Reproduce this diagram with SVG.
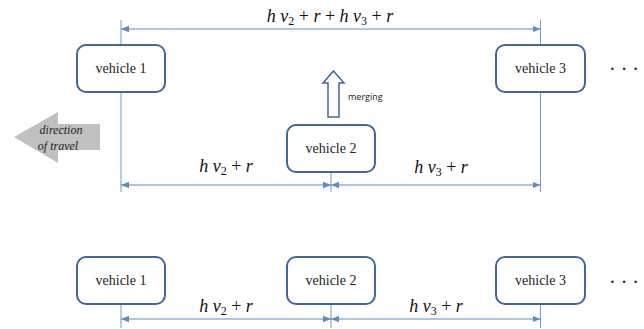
<svg xmlns="http://www.w3.org/2000/svg" width="644" height="329" viewBox="0 0 644 329">
<style>
.box{fill:#fff;stroke:#41679A;stroke-width:2}
.serif{font-family:"Liberation Serif","Times New Roman","DejaVu Serif",serif}
.vt{font-size:14px;fill:#222;text-anchor:middle}
.dim{stroke:#5B8CC6;stroke-width:1;fill:none}
.ext{stroke:#6F9BCF;stroke-width:1;fill:none}
.math{font-size:18px;fill:#111;text-anchor:middle}
.i{font-style:italic}
.sub{font-size:12px}
.dots{font-size:20px;fill:#222}
.dir{font-size:12px;font-style:italic;fill:#222;text-anchor:middle}
</style>
<defs>
<marker id="ah" viewBox="0 0 10 10" refX="10" refY="5" markerWidth="8" markerHeight="8" markerUnits="userSpaceOnUse" orient="auto-start-reverse">
<path d="M0,1 L10,5 L0,9 z" fill="#5B8CC6"/>
</marker>
</defs>
<g id="connectors">
<line class="ext" x1="121" y1="20" x2="121" y2="192"/>
<line class="ext" x1="540.5" y1="20" x2="540.5" y2="192"/>
<line class="ext" x1="331" y1="172" x2="331" y2="192"/>
<line class="dim" x1="121" y1="29" x2="540.5" y2="29" marker-start="url(#ah)" marker-end="url(#ah)"/>
<line class="dim" x1="121" y1="185" x2="331" y2="185" marker-start="url(#ah)" marker-end="url(#ah)"/>
<line class="dim" x1="331" y1="185" x2="540.5" y2="185" marker-start="url(#ah)" marker-end="url(#ah)"/>
<line class="ext" x1="121" y1="304" x2="121" y2="328"/>
<line class="ext" x1="331" y1="304" x2="331" y2="328"/>
<line class="ext" x1="540.5" y1="304" x2="540.5" y2="328"/>
<line class="dim" x1="121" y1="319" x2="331" y2="319" marker-start="url(#ah)" marker-end="url(#ah)"/>
<line class="dim" x1="331" y1="319" x2="540.5" y2="319" marker-start="url(#ah)" marker-end="url(#ah)"/>
</g>
<g id="labels" class="serif">
<text class="math" x="330" y="22"><tspan class="i">h</tspan> <tspan class="i">v</tspan><tspan class="sub" dy="3">2</tspan><tspan dy="-3"> + </tspan><tspan class="i">r</tspan> + <tspan class="i">h</tspan> <tspan class="i">v</tspan><tspan class="sub" dy="3">3</tspan><tspan dy="-3"> + </tspan><tspan class="i">r</tspan></text>
<text class="math" x="226" y="172"><tspan class="i">h</tspan> <tspan class="i">v</tspan><tspan class="sub" dy="3">2</tspan><tspan dy="-3"> + </tspan><tspan class="i">r</tspan></text>
<text class="math" x="441" y="173"><tspan class="i">h</tspan> <tspan class="i">v</tspan><tspan class="sub" dy="3">3</tspan><tspan dy="-3"> + </tspan><tspan class="i">r</tspan></text>
<text class="math" x="226" y="312"><tspan class="i">h</tspan> <tspan class="i">v</tspan><tspan class="sub" dy="3">2</tspan><tspan dy="-3"> + </tspan><tspan class="i">r</tspan></text>
<text class="math" x="436" y="312"><tspan class="i">h</tspan> <tspan class="i">v</tspan><tspan class="sub" dy="3">3</tspan><tspan dy="-3"> + </tspan><tspan class="i">r</tspan></text>
<text class="dots" x="609" y="76">· · ·</text>
<text class="dots" x="609" y="289">· · ·</text>
</g>
<g id="direction" class="serif">
<polygon points="14,137 58,112 58,124 100,124 100,150 58,150 58,163" fill="#C0C0C0"/>
<text class="dir" x="61" y="134">direction</text>
<text class="dir" x="58" y="150">of travel</text>
</g>
<g id="merging">
<polygon points="333.5,71 344,83 339,83 339,117 328,117 328,83 323,83" fill="#fff" stroke="#41679A" stroke-width="1.5" stroke-linejoin="miter"/>
<text x="348" y="100" font-family="'Open Sans',sans-serif" font-size="9" fill="#222">merging</text>
</g>
<g class="serif">
<g id="top-vehicle1"><rect class="box" x="77" y="45" width="88" height="47" rx="9"/><text class="vt" x="121" y="73">vehicle 1</text></g>
<g id="top-vehicle2"><rect class="box" x="287" y="125" width="88" height="47" rx="9"/><text class="vt" x="331" y="153">vehicle 2</text></g>
<g id="top-vehicle3"><rect class="box" x="496" y="45" width="89" height="47" rx="9"/><text class="vt" x="540.5" y="73">vehicle 3</text></g>
<g id="bottom-vehicle1"><rect class="box" x="77" y="257" width="88" height="47" rx="9"/><text class="vt" x="121" y="285">vehicle 1</text></g>
<g id="bottom-vehicle2"><rect class="box" x="287" y="257" width="88" height="47" rx="9"/><text class="vt" x="331" y="285">vehicle 2</text></g>
<g id="bottom-vehicle3"><rect class="box" x="496" y="257" width="89" height="47" rx="9"/><text class="vt" x="540.5" y="285">vehicle 3</text></g>
</g>
</svg>
